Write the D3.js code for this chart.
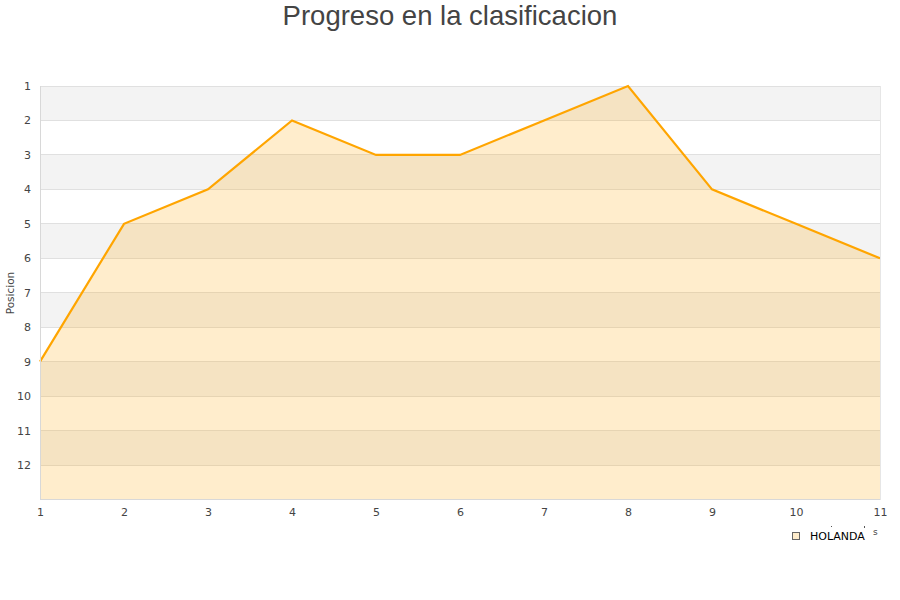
<!DOCTYPE html>
<html><head><meta charset="utf-8">
<script src="https://cdn.jsdelivr.net/npm/d3@7/dist/d3.min.js"></script>
<style>body{margin:0;background:#fff}svg{display:block}</style>
</head><body>
<svg id="c" width="900" height="600"></svg>
<script>
const jornadas = [1,2,3,4,5,6,7,8,9,10,11];
const posiciones = [9,5,4,2,3,3,2,1,4,5,6];
const yTicks = [1,2,3,4,5,6,7,8,9,10,11,12];
const seriesName = "HOLANDA";
const title = "Progreso en la clasificacion";
const yLabel = "Posicion";

const svg = d3.select("#c");
const L = 40, R = 880, T = 86, B = 499.5;
const x = d3.scaleLinear().domain([1,11]).range([L,R]);
const y = d3.scaleLinear().domain([1,13]).range([T,B]);

// bands
svg.append("g").selectAll("rect").data(yTicks.filter(d => d % 2 === 1)).join("rect")
  .attr("x", L).attr("width", R-L)
  .attr("y", d => y(d)).attr("height", d => y(d+1)-y(d))
  .attr("fill", "#f3f3f3");

// grid
svg.append("g").selectAll("line").data(yTicks).join("line")
  .attr("x1", L).attr("x2", R)
  .attr("y1", d => y(d)).attr("y2", d => y(d))
  .attr("stroke", "#e0e0e0").attr("stroke-width", 1).attr("shape-rendering","crispEdges");

// area
const area = d3.area().x((d,i)=>x(jornadas[i])).y0(y(13)).y1(d=>y(d));
svg.append("path").datum(posiciones).attr("d", area)
  .attr("fill", "#ffa500").attr("fill-opacity", 0.2);
const line = d3.line().x((d,i)=>x(jornadas[i])).y(d=>y(d));
svg.append("path").datum(posiciones).attr("d", line)
  .attr("fill","none").attr("stroke","#ffa500").attr("stroke-width",2.2);

// borders
svg.append("line").attr("x1",L).attr("x2",L).attr("y1",T).attr("y2",B)
  .attr("stroke","#d8d8d8").attr("shape-rendering","crispEdges");
svg.append("line").attr("x1",R).attr("x2",R).attr("y1",T).attr("y2",B)
  .attr("stroke","#e6e6e6").attr("shape-rendering","crispEdges");
svg.append("line").attr("x1",L).attr("x2",R).attr("y1",B).attr("y2",B)
  .attr("stroke","#d8d8d8").attr("shape-rendering","crispEdges");

// axes
const yAxis = d3.axisLeft(y).tickValues(yTicks).tickSize(0).tickPadding(9);
const gy = svg.append("g").attr("transform",`translate(${L},0)`).call(yAxis);
gy.select(".domain").remove();
gy.selectAll("text").attr("font-family","DejaVu Sans").attr("font-size",11).attr("fill","#444");

const xAxis = d3.axisBottom(x).tickValues(jornadas).tickSize(0).tickPadding(9);
const gx = svg.append("g").attr("transform",`translate(0,${B})`).call(xAxis);
gx.select(".domain").remove();
gx.selectAll("text").attr("font-family","DejaVu Sans").attr("font-size",11).attr("fill","#444");

// title
svg.append("text").attr("x",450).attr("y",25).attr("text-anchor","middle")
  .attr("font-family","Liberation Sans, Arial, sans-serif").attr("font-size",27.5).attr("fill","#444").text(title);

// y label
svg.append("text").attr("transform","translate(14,293) rotate(-90)").attr("text-anchor","middle")
  .attr("font-family","DejaVu Sans").attr("font-size",10.5).attr("fill","#444").text(yLabel);

// legend
svg.append("rect").attr("x",792.5).attr("y",532.5).attr("width",7).attr("height",7)
  .attr("fill","#ffedcc").attr("stroke","#666").attr("stroke-width",1);
svg.append("text").attr("x",810).attr("y",540).attr("font-family","DejaVu Sans").attr("font-size",11)
  .attr("fill","#000").text(seriesName);
svg.append("text").attr("x",873).attr("y",535).attr("font-family","DejaVu Sans").attr("font-size",9)
  .attr("fill","#444").text("s");
svg.append("rect").attr("x",831).attr("y",526).attr("width",1).attr("height",1).attr("fill","#555");
svg.append("rect").attr("x",864).attr("y",526).attr("width",1).attr("height",2).attr("fill","#555");
</script>
</body></html>
